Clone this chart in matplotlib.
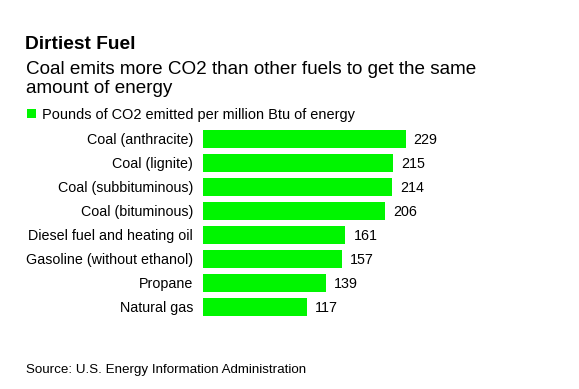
import matplotlib
matplotlib.use("Agg")
import matplotlib.pyplot as plt
from matplotlib.patches import Rectangle

categories = ["Coal (anthracite)", "Coal (lignite)", "Coal (subbituminous)",
              "Coal (bituminous)", "Diesel fuel and heating oil",
              "Gasoline (without ethanol)", "Propane", "Natural gas"]
values = [229, 215, 214, 206, 161, 157, 139, 117]

title = "Dirtiest Fuel"
subtitle_lines = ["Coal emits more CO2 than other fuels to get the same", "amount of energy"]
legend_label = "Pounds of CO2 emitted per million Btu of energy"
source = "Source: U.S. Energy Information Administration"

GREEN = "#00f500"
W, H = 579, 389
plt.rcParams['font.family'] = ['Liberation Sans', 'DejaVu Sans']

fig = plt.figure(figsize=(W / 100, H / 100), dpi=100)
fig.patch.set_facecolor("white")

def fx(px):
    return px / W

def fy(py):
    return 1 - py / H

ax_left, ax_right, ax_top, ax_bottom = 203, 579, 126.5, 319.0
ax = fig.add_axes([fx(ax_left), fy(ax_bottom), fx(ax_right - ax_left), (ax_bottom - ax_top) / H])
ypos = list(range(len(categories)))
ax.barh(ypos, values, height=0.75, color=GREEN)
ax.set_xlim(0, (ax_right - ax_left) / 0.885)
ax.set_ylim(len(categories) - 0.5, -0.5)
for s in ax.spines.values():
    s.set_visible(False)
ax.set_xticks([])
ax.set_yticks(ypos)
ax.set_yticklabels(categories, fontsize=10.25)
ax.tick_params(axis='y', length=0, pad=7.2)
for y, v in zip(ypos, values):
    ax.annotate(str(v), xy=(v, y), xytext=(8, -1), textcoords='offset pixels',
                va='center', ha='left', fontsize=10.25)

fig.text(fx(25.5), fy(49), title, fontsize=13.8, fontweight='bold', va='baseline', ha='left')
for i, line in enumerate(subtitle_lines):
    fig.text(fx(26), fy(74.5 + 18.5 * i), line, fontsize=13.55, va='baseline', ha='left')
fig.patches.append(Rectangle((fx(27), fy(118)), fx(9), 9 / H, transform=fig.transFigure,
                             facecolor=GREEN, edgecolor='none'))
fig.text(fx(42), fy(119.3), legend_label, fontsize=10.45, va='baseline', ha='left')
fig.text(fx(26), fy(373), source, fontsize=9.6, va='baseline', ha='left')

fig.savefig("out.png", dpi=100, facecolor="white")
